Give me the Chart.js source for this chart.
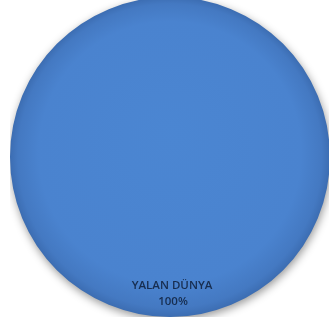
<!DOCTYPE html>
<html>
<head>
<meta charset="utf-8">
<script src="https://cdn.jsdelivr.net/npm/chart.js@4/dist/chart.umd.min.js"></script>
<style>
  html, body { margin: 0; padding: 0; background: #ffffff; overflow: hidden; }
  body { width: 329px; height: 326px; position: relative; }
  #wrap { position: absolute; left: 10px; top: -3px; width: 320px; height: 320px; }
</style>
</head>
<body>
<div id="wrap"><canvas id="pie"></canvas></div>
<script>
// Single-slice share chart
const categories = ["YALAN DÜNYA"];
const shares = [100];
const percentLabels = ["100%"];

// Shaded blue fill: lighter toward the top, darker at the lower rim
function sliceFill(context) {
  const chart = context.chart;
  const area = chart.chartArea;
  if (!area) return "#4a84d0";
  const cx = (area.left + area.right) / 2;
  const cy = (area.top + area.bottom) / 2;
  const r = Math.min(area.right - area.left, area.bottom - area.top) / 2;
  const g = chart.ctx.createRadialGradient(cx, cy - r * 0.15, 0, cx, cy, r);
  g.addColorStop(0, "#4b86d2");
  g.addColorStop(0.82, "#4a83cf");
  g.addColorStop(0.95, "#4479c2");
  g.addColorStop(1, "#3c6db2");
  return g;
}

// Soft drop shadow under the pie
const shadowPlugin = {
  id: "pieShadow",
  beforeDatasetDraw(chart) {
    const ctx = chart.ctx;
    ctx.save();
    ctx.shadowColor = "rgba(0,0,0,0.4)";
    ctx.shadowBlur = 8;
    ctx.shadowOffsetX = 1;
    ctx.shadowOffsetY = 3;
  },
  afterDatasetDraw(chart) {
    chart.ctx.restore();
  }
};

// Category name and percentage placed at each slice's mid-angle
const labelPlugin = {
  id: "sliceLabels",
  afterDatasetsDraw(chart) {
    const ctx = chart.ctx;
    const meta = chart.getDatasetMeta(0);
    meta.data.forEach((arc, i) => {
      const p = arc.getProps(["x", "y", "startAngle", "endAngle", "outerRadius"], true);
      const mid = (p.startAngle + p.endAngle) / 2;
      const d = p.outerRadius * 0.855;
      const x = p.x + Math.cos(mid) * d;
      const y = p.y + Math.sin(mid) * d;
      ctx.save();
      ctx.fillStyle = "#172d4f";
      ctx.font = "600 11.5px 'Open Sans', sans-serif";
      ctx.textAlign = "center";
      ctx.textBaseline = "middle";
      ctx.fillText(categories[i], x + 2, y - 8);
      ctx.fillText(percentLabels[i], x + 3, y + 8);
      ctx.restore();
    });
  }
};

new Chart(document.getElementById("pie"), {
  type: "pie",
  data: {
    labels: categories,
    datasets: [{
      data: shares,
      backgroundColor: sliceFill,
      borderWidth: 0
    }]
  },
  options: {
    responsive: true,
    maintainAspectRatio: false,
    animation: false,
    layout: { padding: 0 },
    plugins: {
      legend: { display: false },
      tooltip: { enabled: false }
    }
  },
  plugins: [shadowPlugin, labelPlugin]
});
</script>
</body>
</html>
